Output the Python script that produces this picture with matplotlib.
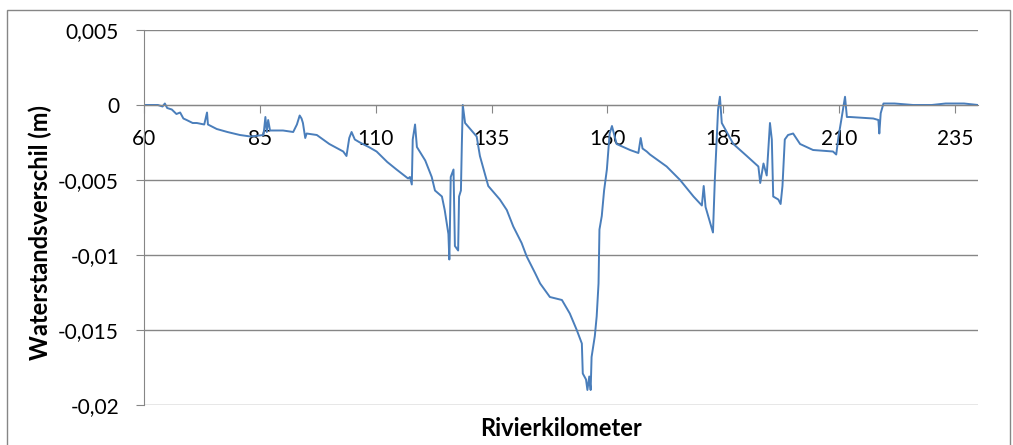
import matplotlib.pyplot as plt
from matplotlib.patches import Rectangle
from matplotlib.ticker import FuncFormatter

plt.rcParams['font.family'] = ['Lato', 'DejaVu Sans']

# rivierkilometer vs waterstandsverschil (m)
km = [60.0, 63.0, 64.0, 64.5, 65.0, 66.0, 67.0, 67.8, 68.5, 69.2, 70.5, 71.4,
      73.0, 73.6, 73.8, 75.7, 78.0, 80.7, 83.0, 85.8, 86.2, 86.5, 86.8, 87.2,
      87.9, 90.0, 92.2, 93.0, 93.6, 94.0, 94.3, 94.8, 95.1, 97.3, 100.0, 103.0,
      103.7, 104.3, 104.8, 105.5, 106.6, 108.5, 110.2, 112.5, 114.5, 117.0,
      117.4, 117.8, 118.0, 118.5, 118.9, 120.7, 122.1, 122.8, 124.3, 124.9,
      125.7, 125.9, 126.0, 126.2, 126.8, 127.1, 127.8, 128.0, 128.4, 128.6,
      128.8, 129.0, 129.3, 131.8, 132.5, 134.3, 136.8, 138.3, 139.7, 141.5,
      142.6, 144.4, 145.5, 147.6, 150.2, 151.9, 153.4, 154.5, 154.7, 155.4,
      155.7, 156.1, 156.4, 156.6, 157.3, 157.7, 158.1, 158.3, 158.8, 159.3,
      159.9, 160.5, 161.0, 162.0, 164.9, 166.7, 167.2, 167.6, 168.5, 169.2,
      172.8, 175.7, 178.6, 180.4, 180.8, 181.2, 182.8, 183.2, 183.9, 184.3,
      184.7, 187.2, 190.1, 192.6, 193.0, 193.7, 194.4, 195.1, 195.5, 195.8,
      196.9, 197.4, 197.8, 198.3, 199.0, 200.1, 201.6, 204.4, 208.7, 209.4,
      209.9, 210.6, 211.3, 211.7, 212.4, 217.4, 218.5, 218.7, 219.0, 219.6,
      222.0, 226.0, 230.0, 233.0, 237.0, 240.0]
verschil = [0.0, 0.0, -0.0001, 0.0001, -0.0002, -0.0003, -0.0006, -0.0005,
            -0.0009, -0.001, -0.0012, -0.0012, -0.0013, -0.0005, -0.0013,
            -0.0016, -0.0018, -0.002, -0.0021, -0.002, -0.0008, -0.0018,
            -0.001, -0.0017, -0.0017, -0.0017, -0.0018, -0.0013, -0.0007,
            -0.0009, -0.0012, -0.0022, -0.0019, -0.002, -0.0026, -0.0031,
            -0.0034, -0.0022, -0.0018, -0.0023, -0.0025, -0.0028, -0.0031,
            -0.0038, -0.0043, -0.0049, -0.0048, -0.0053, -0.0023, -0.0013,
            -0.0028, -0.0037, -0.0048, -0.0057, -0.0061, -0.007, -0.0086,
            -0.0103, -0.0087, -0.0048, -0.0043, -0.0094, -0.0097, -0.0061,
            -0.0057, -0.0026, 0.0, -0.0005, -0.0012, -0.0021, -0.0034,
            -0.0054, -0.0063, -0.007, -0.0081, -0.0092, -0.0101, -0.0112,
            -0.0119, -0.0128, -0.013, -0.0139, -0.015, -0.0159, -0.0179,
            -0.0183, -0.019, -0.0181, -0.019, -0.0168, -0.0154, -0.0141,
            -0.0119, -0.0083, -0.0074, -0.0057, -0.0043, -0.0019, -0.0014,
            -0.0026, -0.003, -0.0032, -0.0022, -0.0029, -0.0031, -0.0033,
            -0.0041, -0.005, -0.0061, -0.0067, -0.0054, -0.0068, -0.0085,
            -0.005, -0.0003, 0.00055, -0.0012, -0.0026, -0.0034, -0.0041,
            -0.0052, -0.0039, -0.0047, -0.0012, -0.0023, -0.0061, -0.0063,
            -0.0066, -0.0054, -0.0023, -0.002, -0.0019, -0.0026, -0.003,
            -0.0031, -0.0033, -0.0021, -0.0008, 0.00055, -0.0008, -0.0008,
            -0.0009, -0.001, -0.0019, -0.00055, 0.0001, 0.0001, 0.0, 0.0,
            0.0001, 0.0001, 0.0]

x_ticks = [60, 85, 110, 135, 160, 185, 210, 235]
y_ticks = [0.005, 0, -0.005, -0.01, -0.015, -0.02]

grey = '#868686'

fig = plt.figure(figsize=(10.13, 4.45), dpi=100)
# chart border like excel
fig.patches.append(Rectangle((7 / 1013, -0.01), 1003 / 1013, 1 - 10 / 445 + 0.01,
                             transform=fig.transFigure, fill=False,
                             edgecolor=grey, linewidth=1.0))

ax = fig.add_axes([144 / 1013, 1 - 405 / 445, (978 - 144) / 1013, (405 - 30) / 445])
ax.plot(km, verschil, color='#4A7EBB', linewidth=1.4)

ax.set_xlim(60, 240)
ax.set_ylim(-0.02, 0.005)
ax.set_xticks(x_ticks)
ax.set_yticks(y_ticks)

def komma(v, pos):
    if abs(v) < 1e-12:
        return '0'
    return ('%g' % v).replace('.', ',')

ax.yaxis.set_major_formatter(FuncFormatter(komma))
ax.xaxis.set_major_formatter(FuncFormatter(lambda v, p: '%d' % v))

ax.grid(axis='y', color=grey, linewidth=1.0)
ax.set_axisbelow(True)
for s in ['top', 'right']:
    ax.spines[s].set_visible(False)
ax.spines['bottom'].set_position(('data', 0))
ax.spines['bottom'].set_color(grey)
ax.spines['left'].set_color(grey)
ax.tick_params(axis='both', direction='out', length=6, color=grey,
               labelsize=15)
ax.tick_params(axis='x', pad=11)
ax.tick_params(axis='y', pad=12)

fig.text(40 / 1013, 1 - 232 / 445, 'Waterstandsverschil (m)', rotation=90,
         ha='center', va='center', fontsize=17, fontweight='bold')
fig.text(561 / 1013, 1 - 428 / 445, 'Rivierkilometer', ha='center',
         va='center', fontsize=17, fontweight='bold')

fig.savefig('out.png', dpi=100)
